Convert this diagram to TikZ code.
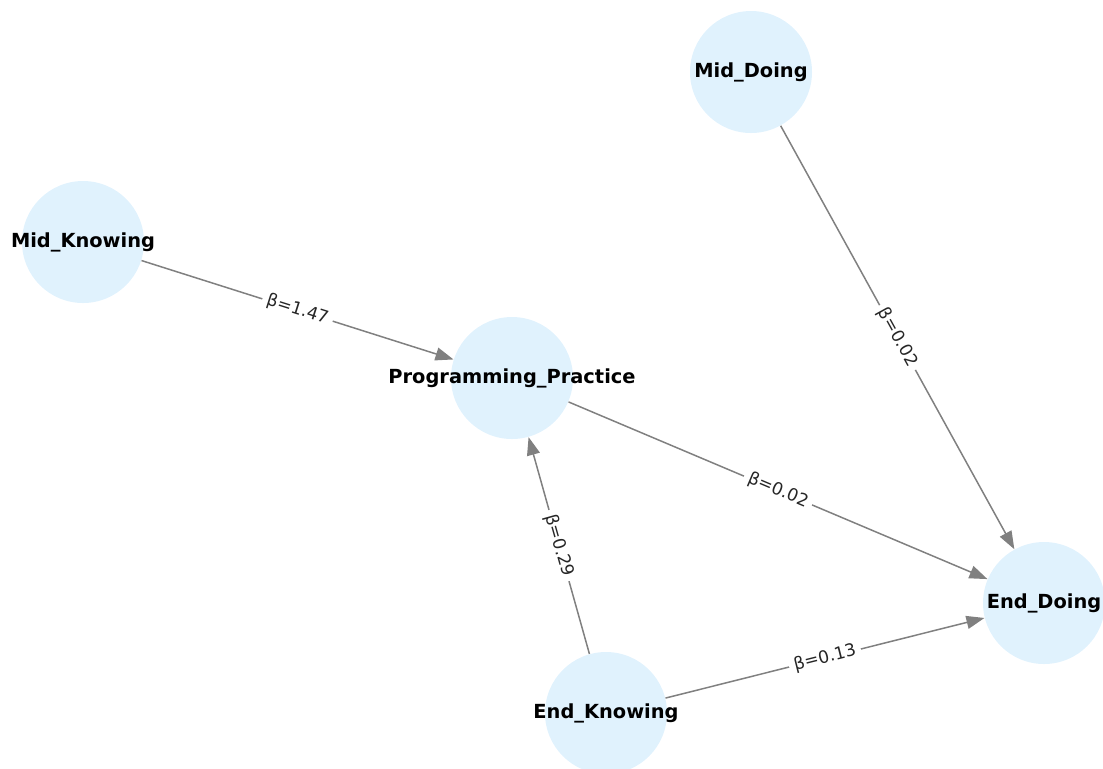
\documentclass[tikz,border=0pt]{standalone}
\usepackage{fontspec}
\setmainfont{DejaVu Sans}
\usetikzlibrary{arrows.meta}
\definecolor{nodefill}{RGB}{224,242,253}
\definecolor{edgegray}{RGB}{128,128,128}
\newcommand{\zw}[1]{\makebox[0pt]{#1}}
\tikzset{
  vnode/.style={circle, fill=nodefill, draw=none, minimum size=61pt, inner sep=0pt,
    font=\fontsize{9.7pt}{11pt}\selectfont\bfseries, text=black},
  edge/.style={draw=edgegray, line width=0.75pt, -{Triangle[length=9pt,width=6.5pt]}},
  elabel/.style={sloped, midway, fill=white, inner sep=2.5pt,
    font=\fontsize{8.6pt}{10pt}\selectfont, text=black!85}
}
\begin{document}
\begin{tikzpicture}[x=0.5pt,y=-0.5pt]
\useasboundingbox (0,0) rectangle (1103,768);
\node[vnode] (md) at (751,72) {\zw{Mid\_Doing}};
\node[vnode] (mk) at (83,242) {\zw{Mid\_Knowing}};
\node[vnode] (pp) at (512,378) {\zw{Programming\_Practice}};
\node[vnode] (ed) at (1044,603) {\zw{End\_Doing}};
\node[vnode] (ek) at (606,713) {\zw{End\_Knowing}};
\draw[edge] (mk) -- node[elabel] {β=1.47} (pp);
\draw[edge] (md) -- node[elabel] {β=0.02} (ed);
\draw[edge] (pp) -- node[elabel] {β=0.02} (ed);
\draw[edge] (ek) -- node[elabel] {β=0.29} (pp);
\draw[edge] (ek) -- node[elabel] {β=0.13} (ed);
\end{tikzpicture}
\end{document}
